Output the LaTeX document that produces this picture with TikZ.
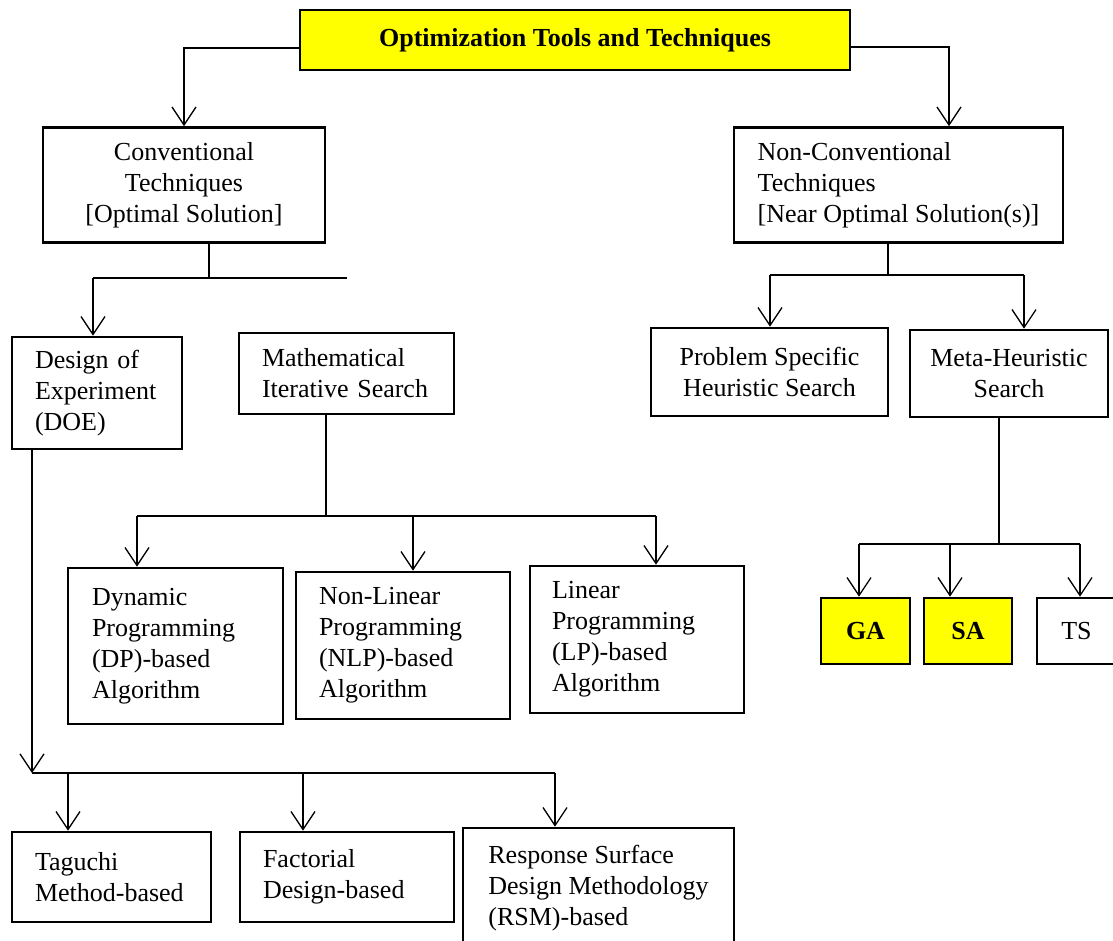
\documentclass[tikz,border=0pt]{standalone}
\usepackage{fontspec}
\setmainfont{Liberation Serif}
\usepackage{tikz}
\usetikzlibrary{arrows.meta, calc}
\usepackage{xcolor}
\definecolor{hilite}{HTML}{FFFF00}
\tikzset{
  box/.style={rectangle, draw=black, line width=2.6pt, fill=white,
              inner sep=0pt, align=center,
              font=\fontsize{26}{31}\selectfont},
  boxL/.style={box, align=left},
  boxY/.style={box, fill=hilite, font=\fontsize{26}{31}\selectfont\bfseries},
  bus/.style={line width=2.4pt},
  stem/.style={line width=1.3pt},
  arrow/.style={-{Straight Barb[length=18pt, width=24pt]}, line width=1.3pt},
}

\begin{document}
\begin{tikzpicture}[x=1pt, y=-1pt]

  \clip (0,0) rectangle (1113,941);

  %% ── ROOT ──────────────────────────────────────────────────────────────
  \node[boxY, minimum width=550pt, minimum height=60pt] (title) at (575,40)
        {Optimization Tools and Techniques};

  %% ── CONVENTIONAL SIDE ────────────────────────────────────────────────
  \node[box,  minimum width=282pt, minimum height=115pt] (conv) at (184,185)
        {Conventional\\Techniques\\{}[Optimal Solution]};
  \node[boxL, minimum width=170pt, minimum height=112pt, text width=124pt] (doe) at (97,393)
        {Design of\\Experiment\\(DOE)};
  \node[boxL, minimum width=215pt, minimum height=81pt, text width=169pt] (math) at (346.5,373.5)
        {Mathematical\\Iterative Search};
  \node[boxL, minimum width=215pt, minimum height=156pt, text width=167pt] (dp) at (175.5,646)
        {Dynamic\\Programming\\(DP)-based\\Algorithm};
  \node[boxL, minimum width=214pt, minimum height=147pt, text width=168pt] (nlp) at (403,645.5)
        {Non-Linear\\Programming\\(NLP)-based\\Algorithm};
  \node[boxL, minimum width=214pt, minimum height=147pt, text width=170pt] (lp) at (637,639.5)
        {Linear\\Programming\\(LP)-based\\Algorithm};
  \node[boxL, minimum width=199pt, minimum height=90pt, text width=153pt] (tag) at (111.5,877)
        {Taguchi\\Method-based};
  \node[boxL, minimum width=214pt, minimum height=90pt, text width=168pt] (fact) at (347,877)
        {Factorial\\Design-based};
  \node[boxL, minimum width=271pt, minimum height=120pt] (rsm) at (598.5,888)
        {Response Surface\\Design Methodology\\(RSM)-based};

  %% ── NON-CONVENTIONAL SIDE ────────────────────────────────────────────
  \node[boxL, minimum width=329pt, minimum height=115pt] (nonconv) at (898.5,185)
        {Non-Conventional\\Techniques\\{}[Near Optimal Solution(s)]};
  \node[box,  minimum width=237pt, minimum height=88pt] (prob) at (769.5,372)
        {Problem Specific\\Heuristic Search};
  \node[box,  minimum width=198pt, minimum height=87pt] (meta) at (1009,373.5)
        {Meta-Heuristic\\Search};
  \node[boxY, minimum width=89pt, minimum height=66pt] (ga) at (865.5,631) {GA};
  \node[boxY, minimum width=88pt, minimum height=66pt] (sa) at (968,631) {SA};
  \node[box,  minimum width=79pt, minimum height=66pt] (ts) at (1076.5,631) {TS};

  %% ── ROOT ARROWS ──────────────────────────────────────────────────────
  \draw[arrow] ([yshift=-8pt]title.west) -| (conv.north);
  \draw[arrow] ([yshift=-7pt]title.east) -| ([xshift=50.5pt]nonconv.north);

  %% ── CONVENTIONAL BRANCHES ────────────────────────────────────────────
  \coordinate (cStem) at (209,278);
  \coordinate (cL)    at (93,278);
  \coordinate (cR)    at (347,278);
  \draw[stem] (conv.south -| cStem) -- (cStem);
  \draw[bus]  (cL) -- (cR);
  \draw[arrow] (cL) -- (cL |- doe.north);

  \coordinate (mStem) at (326,516);
  \coordinate (m1) at (137,516);
  \coordinate (m2) at (413,516);
  \coordinate (m3) at (656,516);
  \draw[stem] (math.south -| mStem) -- (mStem);
  \draw[bus]  (m1) -- (m3);
  \foreach \a/\b in {m1/dp, m2/nlp, m3/lp}{
    \draw[arrow] (\a) -- (\a |- \b.north);
  }

  \coordinate (dStem) at (32,773);
  \coordinate (d1) at (68,773);
  \coordinate (d2) at (303,773);
  \coordinate (d3) at (555,773);
  \draw[arrow] (doe.south -| dStem) -- (dStem);
  \draw[bus]   (dStem) -- (d3);
  \foreach \a/\b in {d1/tag, d2/fact, d3/rsm}{
    \draw[arrow] (\a) -- (\a |- \b.north);
  }

  %% ── NON-CONVENTIONAL BRANCHES ────────────────────────────────────────
  \coordinate (nStem) at (888,275);
  \coordinate (n1) at (770,275);
  \coordinate (n2) at (1024,275);
  \draw[stem] (nonconv.south -| nStem) -- (nStem);
  \draw[bus]  (n1) -- (n2);
  \foreach \a/\b in {n1/prob, n2/meta}{
    \draw[arrow] (\a) -- (\a |- \b.north);
  }

  \coordinate (hStem) at (999,544);
  \coordinate (h1) at (859,544);
  \coordinate (h2) at (950,544);
  \coordinate (h3) at (1080,544);
  \draw[stem] (meta.south -| hStem) -- (hStem);
  \draw[bus]  (h1) -- (h3);
  \foreach \a/\b in {h1/ga, h2/sa, h3/ts}{
    \draw[arrow] (\a) -- (\a |- \b.north);
  }

\end{tikzpicture}
\end{document}
